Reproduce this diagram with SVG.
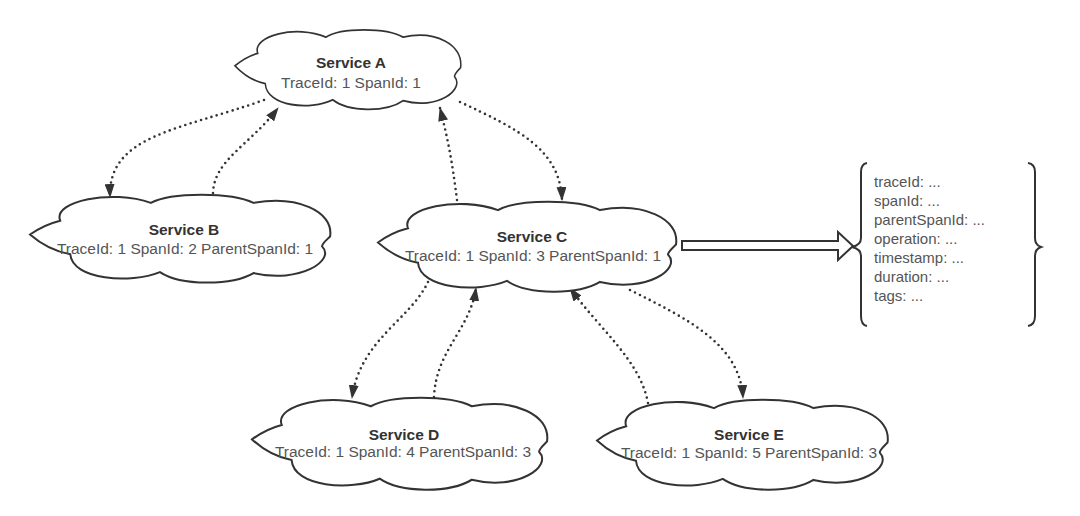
<svg xmlns="http://www.w3.org/2000/svg" width="1080" height="516" viewBox="0 0 1080 516">
<defs>
<style>
.cloud{fill:#fff;stroke:#333;stroke-width:2;vector-effect:non-scaling-stroke}
.t1{font-family:"Liberation Sans",Arial,sans-serif;font-size:15.5px;font-weight:bold;fill:#333;text-anchor:middle}
.t2{font-family:"Liberation Sans",Arial,sans-serif;font-size:15.5px;fill:#555;text-anchor:middle}
.lst{font-family:"Liberation Sans",Arial,sans-serif;font-size:15px;fill:#555}
.dot{fill:none;stroke:#333;stroke-width:2.6;stroke-linecap:round;stroke-dasharray:0 5.5}
.brace{fill:none;stroke:#333;stroke-width:2}
</style>
<path id="cl" d="M 0,40 Q 14,30 30,26 C 22,6 82,-6 120,8 C 140,-3 200,-3 222,8 C 264,0 302,16 298,42 C 294,46 290,49 290,52 C 304,66 268,90 222,79 C 200,92 150,92 129,78 C 100,90 42,86 40,60 Q 18,56 0,40 Z"/>
<marker id="ah" viewBox="0 0 14 10" markerWidth="14" markerHeight="10" refX="13" refY="5" orient="auto" markerUnits="userSpaceOnUse">
<path d="M0,0 L14,5 L0,10 Z" fill="#333"/>
</marker>
</defs>
<rect width="1080" height="516" fill="#fff"/>

<g id="connectors">
<path class="dot" d="M 264,100 C 180,130 108,135 110,197" marker-end="url(#ah)"/>
<path class="dot" d="M 213,193 C 214,160 250,145 278,108" marker-end="url(#ah)"/>
<path class="dot" d="M 457,200 C 452,160 448,140 440,108" marker-end="url(#ah)"/>
<path class="dot" d="M 460,102 C 520,130 560,150 562,200" marker-end="url(#ah)"/>
<path class="dot" d="M 428,282 C 410,320 360,340 352,398" marker-end="url(#ah)"/>
<path class="dot" d="M 434,397 C 436,350 470,330 476,288" marker-end="url(#ah)"/>
<path class="dot" d="M 648,403 C 640,360 600,330 570,288" marker-end="url(#ah)"/>
<path class="dot" d="M 630,290 C 690,320 740,345 743,398" marker-end="url(#ah)"/>
<polygon points="682,241 838,241 838,232 853,246 838,260 838,250 682,250" fill="#fff" stroke="#333" stroke-width="2"/>
</g>

<g id="serviceA">
<use href="#cl" class="cloud" transform="translate(235,30) scale(0.757,0.895)"/>
<text class="t1" x="351" y="68">Service A</text>
<text class="t2" x="351" y="88">TraceId: 1 SpanId: 1</text>
</g>

<g id="serviceB">
<use href="#cl" class="cloud" transform="translate(30,195) scale(1.007,0.988)"/>
<text class="t1" x="184" y="235">Service B</text>
<text class="t2" x="185" y="254">TraceId: 1 SpanId: 2 ParentSpanId: 1</text>
</g>

<g id="serviceC">
<use href="#cl" class="cloud" transform="translate(378,202) scale(1,1.012)"/>
<text class="t1" x="532" y="242">Service C</text>
<text class="t2" x="533" y="261">TraceId: 1 SpanId: 3 ParentSpanId: 1</text>
</g>

<g id="serviceD">
<use href="#cl" class="cloud" transform="translate(252,398) scale(0.99,1.035)"/>
<text class="t1" x="404" y="440">Service D</text>
<text class="t2" x="403" y="457">TraceId: 1 SpanId: 4 ParentSpanId: 3</text>
</g>

<g id="serviceE">
<use href="#cl" class="cloud" transform="translate(597,400) scale(0.975,1.012)"/>
<text class="t1" x="749" y="440">Service E</text>
<text class="t2" x="749" y="458">TraceId: 1 SpanId: 5 ParentSpanId: 3</text>
</g>

<g id="span">
<path class="brace" d="M 867,163 Q 861,164 861,172 L 861,238 Q 861,245 852,247 Q 861,249 861,256 L 861,316 Q 861,325 867,326"/>
<path class="brace" d="M 1028,163 Q 1035,164 1035,172 L 1035,238 Q 1035,245 1041,247 Q 1035,249 1035,256 L 1035,316 Q 1035,325 1028,326"/>
<text class="lst" x="874" y="187">traceId: ...</text>
<text class="lst" x="874" y="206">spanId: ...</text>
<text class="lst" x="874" y="225">parentSpanId: ...</text>
<text class="lst" x="874" y="244">operation: ...</text>
<text class="lst" x="874" y="263">timestamp: ...</text>
<text class="lst" x="874" y="282">duration: ...</text>
<text class="lst" x="874" y="301">tags: ...</text>
</g>
</svg>
